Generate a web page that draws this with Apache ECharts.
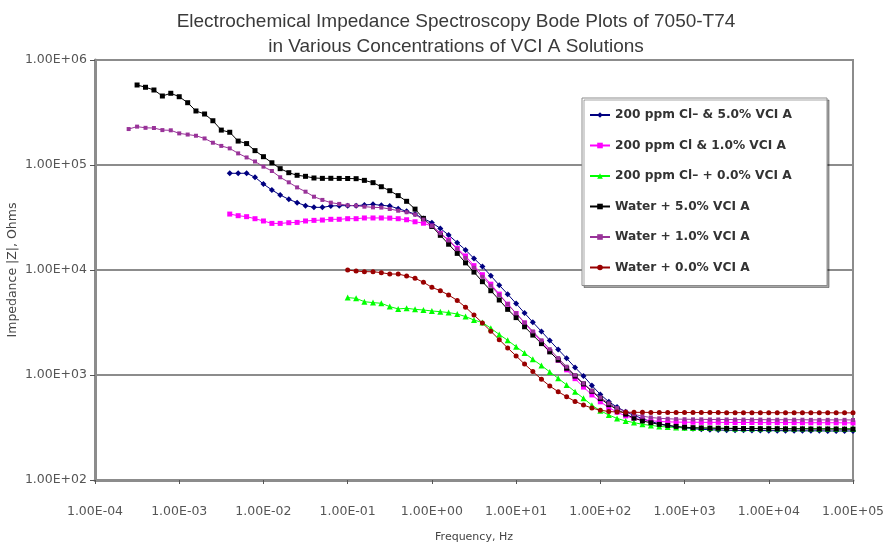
<!DOCTYPE html>
<html>
<head>
<meta charset="utf-8">
<script src="https://cdn.jsdelivr.net/npm/echarts@6/dist/echarts.min.js"></script>
<style>
  html, body { margin: 0; padding: 0; background: #fff; }
  #chart { width: 890px; height: 542px; }
</style>
</head>
<body>
<div id="chart"></div>
<script>
// Frequencies (Hz), 10 points per decade, from 10^-3.6 up to 10^5
const frequencyHz = [
  0.000251, 0.000316, 0.000398, 0.000501, 0.000631, 0.000794,
  0.001, 0.00126, 0.00158, 0.002, 0.00251, 0.00316, 0.00398, 0.00501, 0.00631, 0.00794,
  0.01, 0.0126, 0.0158, 0.02, 0.0251, 0.0316, 0.0398, 0.0501, 0.0631, 0.0794,
  0.1, 0.126, 0.158, 0.2, 0.251, 0.316, 0.398, 0.501, 0.631, 0.794,
  1, 1.26, 1.58, 2, 2.51, 3.16, 3.98, 5.01, 6.31, 7.94,
  10, 12.6, 15.8, 20, 25.1, 31.6, 39.8, 50.1, 63.1, 79.4,
  100, 126, 158, 200, 251, 316, 398, 501, 631, 794,
  1000, 1260, 1580, 2000, 2510, 3160, 3980, 5010, 6310, 7940,
  10000, 12600, 15800, 20000, 25100, 31600, 39800, 50100, 63100, 79400,
  100000
];

// |Z| in ohms; each list ends at the highest frequency (1E+05 Hz)
const cl200Vci50 = [
  83400, 83300, 83500, 76400,
  65900, 57800, 51800, 47100, 43800, 41000, 39500, 39500, 40700, 41000,
  41000, 41000, 41600, 42200, 41300, 40700, 38400, 36200, 34100, 30900,
  28200, 24900, 21500, 18200, 15500, 12900, 10800, 8810, 7160, 5890,
  4790, 3890, 3180, 2600, 2130, 1750, 1440, 1180, 977, 794,
  653, 556, 495, 447, 412, 385, 360, 343, 331, 320,
  313, 308, 304, 301, 299, 298, 297, 297, 296, 296,
  295, 295, 295, 294, 294, 294, 294, 293, 293, 293,
  293
];
const cl200Vci10 = [
  34100, 32900, 32200, 30800,
  29300, 27800, 27800, 28200, 28400, 29300, 29700, 29900, 30400, 30400,
  30800, 30800, 31300, 31300, 31300, 31200, 30800, 30100, 28800, 27900,
  26200, 22300, 19300, 16100, 13600, 11000, 9020, 7330, 5890, 4730,
  3850, 3130, 2540, 2070, 1680, 1380, 1120, 923, 767, 646,
  556, 490, 442, 407, 387, 374, 367, 361, 358, 356,
  355, 355, 354, 354, 354, 353, 353, 353, 353, 352,
  352, 352, 352, 352, 351, 351, 351, 351, 351, 350,
  350
];
const cl200Vci00 = [
  5460, 5370, 4990, 4890, 4820, 4480, 4260, 4320, 4220, 4160,
  4070, 4010, 3930, 3810, 3600, 3340, 3160, 2790, 2430, 2140,
  1860, 1620, 1410, 1230, 1070, 929, 804, 693, 600, 515,
  457, 416, 386, 365, 352, 339, 331, 324, 320, 316,
  314, 313, 312, 312, 311, 311, 310, 310, 310, 310,
  309, 309, 309, 309, 309, 309, 308, 308, 308, 308,
  308
];
const waterVci50 = [
  578000, 550000, 518000, 454000, 482000,
  447000, 392000, 327000, 306000, 264000, 215000, 205000, 169000, 160000, 137000,
  120000, 105000, 92300, 84500, 79800, 78000, 75200, 74600, 74700, 74500,
  74400, 74100, 71400, 67900, 62100, 56900, 51100, 45100, 38000, 31000,
  26000, 21400, 17600, 14400, 11700, 9550, 7740, 6350, 5180, 4220,
  3520, 2880, 2400, 1990, 1660, 1390, 1160, 977, 822, 700,
  596, 522, 470, 424, 389, 365, 351, 339, 331, 324,
  318, 315, 313, 312, 311, 310, 310, 309, 309, 308,
  308, 308, 307, 307, 307, 306, 306, 306, 306, 305,
  305
];
const waterVci10 = [
  220000, 232000, 226000, 225000, 215000, 214000,
  200000, 195000, 190000, 179000, 163000, 152000, 144000, 129000, 118000, 108000,
  96400, 87700, 76400, 68400, 61200, 55700, 49900, 46500, 43800, 42600,
  41300, 41000, 40100, 39500, 39300, 38100, 36700, 35500, 33700, 30200,
  26300, 22400, 19100, 15800, 13000, 10500, 8610, 7080, 5780, 4730,
  3870, 3160, 2600, 2140, 1760, 1450, 1200, 995, 832, 708,
  610, 537, 484, 447, 422, 405, 394, 387, 383, 380,
  379, 378, 378, 377, 377, 377, 376, 376, 376, 376,
  375, 375, 375, 375, 375, 374, 374, 374, 374, 374,
  373
];
const waterVci00 = [
  10000, 9770, 9640, 9630, 9440, 9160, 9150, 8770, 8340, 7640,
  6840, 6350, 5780, 5130, 4420, 3720, 3130, 2610, 2170, 1810,
  1520, 1270, 1080, 910, 785, 693, 622, 560, 518, 484,
  462, 449, 444, 442, 441, 441, 440, 440, 440, 440,
  439, 439, 439, 439, 439, 438, 438, 438, 438, 438,
  438, 437, 437, 437, 437, 437, 437, 437, 436, 436,
  436
];

const seriesNames = [
  '200 ppm Cl\u2013 & 5.0% VCI A',
  '200 ppm Cl & 1.0% VCI A',
  '200 ppm Cl\u2013 + 0.0% VCI A',
  'Water + 5.0% VCI A',
  'Water + 1.0% VCI A',
  'Water + 0.0% VCI A'
];

const xTickLabels = ['1.00E-04', '1.00E-03', '1.00E-02', '1.00E-01', '1.00E+00',
  '1.00E+01', '1.00E+02', '1.00E+03', '1.00E+04', '1.00E+05'];
const yTickLabels = ['1.00E+02', '1.00E+03', '1.00E+04', '1.00E+05', '1.00E+06'];

// pair each impedance list with the tail of the frequency list
function pairUp(values) {
  const offset = frequencyHz.length - values.length;
  return values.map((z, i) => [frequencyHz[offset + i], z]);
}

const styles = [
  { data: cl200Vci50, color: '#000080', symbol: 'diamond', size: 6 },
  { data: cl200Vci10, color: '#ff00ff', symbol: 'rect', size: 5 },
  { data: cl200Vci00, color: '#00ff00', symbol: 'triangle', size: 6 },
  { data: waterVci50, color: '#000000', symbol: 'rect', size: 5 },
  { data: waterVci10, color: '#993399', symbol: 'rect', size: 4 },
  { data: waterVci00, color: '#990000', symbol: 'circle', size: 5 }
];

const tickFont = 'DejaVu Sans, sans-serif';

const chart = echarts.init(document.getElementById('chart'), null, { renderer: 'canvas' });

chart.setOption({
  animation: false,
  backgroundColor: '#ffffff',
  title: {
    text: 'Electrochemical Impedance Spectroscopy Bode Plots of 7050-T74\nin Various Concentrations of VCI A Solutions',
    left: 451,
    textAlign: 'center',
    top: 4,
    textStyle: {
      fontFamily: 'Liberation Sans, Arial, sans-serif',
      fontSize: 19,
      fontWeight: 'normal',
      color: '#3a3a3a',
      lineHeight: 25
    }
  },
  grid: {
    left: 95, right: 37, top: 60, bottom: 62,
    outerBoundsMode: 'none',
    containLabel: false,
    show: true,
    borderColor: '#8c8c8c',
    borderWidth: 2,
    backgroundColor: '#ffffff'
  },
  legend: {
    orient: 'vertical',
    left: 582,
    top: 98,
    padding: [11, 35, 12, 7],
    itemGap: 18.5,
    itemWidth: 20,
    itemHeight: 7,
    backgroundColor: '#ffffff',
    borderColor: '#8c8c8c',
    borderWidth: 1,
    shadowColor: 'rgba(0,0,0,0.35)',
    shadowOffsetX: 2,
    shadowOffsetY: 2,
    shadowBlur: 0,
    textStyle: {
      fontFamily: tickFont,
      fontSize: 12.2,
      fontWeight: 'bold',
      color: '#333333'
    },
    data: seriesNames
  },
  xAxis: {
    type: 'log',
    logBase: 10,
    min: 1e-4,
    max: 1e5,
    splitNumber: 9,
    name: 'Frequency, Hz',
    nameLocation: 'middle',
    nameGap: 52,
    nameMoveOverlap: false,
    nameTextStyle: { fontFamily: tickFont, fontSize: 11, color: '#444' },
    axisLine: { show: true, lineStyle: { color: '#8c8c8c', width: 3 } },
    axisTick: { show: true, length: 4, lineStyle: { color: '#555', width: 1 } },
    minorTick: { show: false },
    axisLabel: {
      margin: 25,
      fontFamily: tickFont,
      fontSize: 12.5,
      color: '#555',
      formatter: v => xTickLabels[Math.round(Math.log10(v)) + 4]
    },
    splitLine: { show: false }
  },
  yAxis: {
    type: 'log',
    logBase: 10,
    min: 100,
    max: 1e6,
    name: 'Impedance |Z|, Ohms',
    nameLocation: 'middle',
    nameGap: 76,
    nameMoveOverlap: false,
    nameTextStyle: { fontFamily: tickFont, fontSize: 12.5, color: '#444' },
    axisLine: { show: true, lineStyle: { color: '#8c8c8c', width: 3 } },
    axisTick: { show: true, length: 5, lineStyle: { color: '#555', width: 1 } },
    axisLabel: {
      margin: 8,
      fontFamily: tickFont,
      fontSize: 12.5,
      color: '#555',
      formatter: v => yTickLabels[Math.round(Math.log10(v)) - 2]
    },
    splitLine: { show: true, lineStyle: { color: '#8c8c8c', width: 2 } }
  },
  series: styles.map((s, i) => ({
    name: seriesNames[i],
    type: 'line',
    data: pairUp(s.data),
    symbol: s.symbol,
    symbolSize: s.size,
    showSymbol: true,
    showAllSymbol: true,
    lineStyle: { color: s.color, width: 1 },
    itemStyle: { color: s.color },
    emphasis: { disabled: true }
  }))
});
</script>
</body>
</html>
